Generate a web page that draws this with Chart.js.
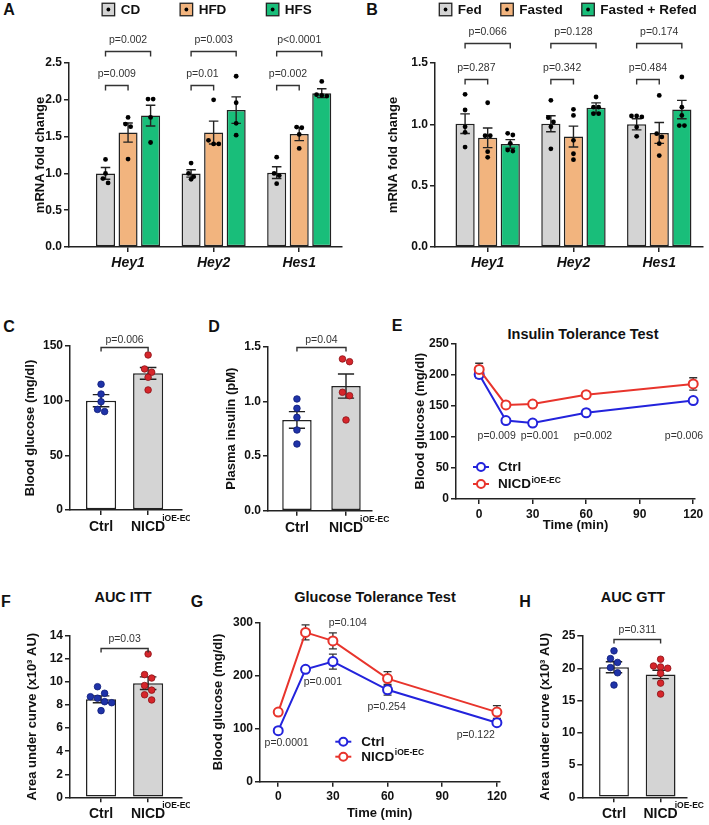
<!DOCTYPE html>
<html><head><meta charset="utf-8">
<script src="https://cdn.jsdelivr.net/npm/chart.js@4/dist/chart.umd.min.js"></script>
<style>
html,body{margin:0;padding:0;background:#fff;}
#wrap{position:relative;width:709px;height:825px;overflow:hidden;background:#fff;font-family:'Liberation Sans',Arial,Helvetica,sans-serif;}
canvas{position:absolute;}
.t{position:absolute;font-weight:bold;color:#111;white-space:nowrap;line-height:1;transform:translate(-50%,-50%);}
.let{font-size:16px;}
.ttl{font-size:14.5px;}
</style></head><body><div id="wrap">
<div class="t let" style="left:9px;top:10px">A</div>
<div class="t let" style="left:372px;top:10px">B</div>
<div class="t let" style="left:9px;top:327px">C</div>
<div class="t let" style="left:214px;top:327px">D</div>
<div class="t let" style="left:397px;top:326px">E</div>
<div class="t let" style="left:6px;top:602px">F</div>
<div class="t let" style="left:197px;top:602px">G</div>
<div class="t let" style="left:525px;top:602px">H</div>
<div class="t ttl" style="left:583px;top:334px">Insulin Tolerance Test</div>
<div class="t ttl" style="left:123px;top:597px">AUC ITT</div>
<div class="t ttl" style="left:375px;top:597px">Glucose Tolerance Test</div>
<div class="t ttl" style="left:633px;top:597px">AUC GTT</div>
</div>
<script>
// ================= DATA =================
// Panel A: diet (CD / HFD / HFS)
const catsA = ['Hey1', 'Hey2', 'Hes1'];
const seriesA = ['CD', 'HFD', 'HFS'];
const meanA_CD  = [1.00, 1.00, 1.01];
const meanA_HFD = [1.555, 1.555, 1.535];
const meanA_HFS = [1.785, 1.86, 2.09];
const semA_CD  = [0.08, 0.05, 0.08];
const semA_HFD = [0.13, 0.155, 0.09];
const semA_HFS = [0.14, 0.18, 0.06];
const ptsA_CD  = [[1.19, 1.00, 0.93, 0.87], [1.14, 1.00, 0.955, 0.92], [1.22, 1.00, 0.97, 0.86]];
const ptsA_HFD = [[1.76, 1.67, 1.635, 1.195], [2.00, 1.45, 1.40, 1.40], [1.63, 1.62, 1.53, 1.34]];
const ptsA_HFS = [[2.01, 2.01, 1.76, 1.42], [2.32, 1.96, 1.68, 1.52], [2.25, 2.07, 2.06, 2.05]];
const pA_HFD = ['p=0.009', 'p=0.01', 'p=0.002'];
const pA_HFS = ['p=0.002', 'p=0.003', 'p<0.0001'];

// Panel B: feeding (Fed / Fasted / Fasted + Refed)
const catsB = ['Hey1', 'Hey2', 'Hes1'];
const seriesB = ['Fed', 'Fasted', 'Fasted + Refed'];
const meanB_Fed    = [1.005, 1.005, 1.00];
const meanB_Fasted = [0.89, 0.90, 0.93];
const meanB_Refed  = [0.84, 1.135, 1.12];
const semB_Fed    = [0.08, 0.065, 0.045];
const semB_Fasted = [0.08, 0.085, 0.085];
const semB_Refed  = [0.035, 0.04, 0.075];
const ptsB_Fed    = [[1.245, 1.117, 0.98, 0.935, 0.815], [1.196, 1.054, 1.02, 0.98, 0.80], [1.068, 1.068, 1.06, 0.978, 0.902]];
const ptsB_Fasted = [[1.176, 0.907, 0.907, 0.777, 0.731], [1.122, 1.073, 0.87, 0.76, 0.712], [1.236, 0.924, 0.897, 0.842, 0.745]];
const ptsB_Refed  = [[0.927, 0.913, 0.845, 0.79, 0.782], [1.223, 1.14, 1.14, 1.087, 1.087], [1.386, 1.14, 1.073, 0.99, 0.99]];
const pB_Fasted = ['p=0.287', 'p=0.342', 'p=0.484'];
const pB_Refed  = ['p=0.066', 'p=0.128', 'p=0.174'];

// Panels C, D, F, H: Ctrl vs NICD
const groups = ['Ctrl', 'NICD'];
const groupSup = 'iOE-EC';
const meanC = [100, 125];     const semC = [5.5, 5.4];
const ptsC = [[115, 106, 99, 92, 90], [141.8, 129, 126, 121.4, 109.8]];
const pC = 'p=0.006';
const meanD = [0.83, 1.14];   const semD = [0.076, 0.11];
const ptsD = [[1.022, 0.936, 0.854, 0.738, 0.61], [1.388, 1.363, 1.083, 1.052, 0.83]];
const pD = 'p=0.04';
const meanF = [8.5, 9.9];     const semF = [0.3, 0.55];
const ptsF = [[9.6, 9.03, 8.73, 8.6, 8.3, 8.21, 7.52], [12.44, 10.65, 10.35, 9.7, 9.3, 8.9, 8.45]];
const pF = 'p=0.03';
const meanH = [20.15, 19.05]; const semH = [0.85, 0.65];
const ptsH = [[22.7, 21.5, 20.9, 20.1, 19.3, 17.4], [21.4, 20.35, 20.2, 20.0, 19.2, 17.7, 16.0]];
const pH = 'p=0.311';

// Panel E: insulin tolerance test
const timeMin = [0, 15, 30, 60, 120];
const timeTicks = [0, 30, 60, 90, 120];
const ittCtrl = [200, 126, 122, 138.5, 158];
const ittCtrlSem = [6, 4, 4, 3, 4];
const ittNICD = [208, 151, 152.5, 167.5, 184.7];
const ittNICDSem = [10, 3, 3, 3, 10];
const ittP = ['p=0.009', 'p=0.001', 'p=0.002', 'p=0.006'];

// Panel G: glucose tolerance test
const gttCtrl = [96, 211.5, 226, 173, 111];
const gttCtrlSem = [3, 5, 14, 10, 4];
const gttNICD = [131, 281, 265, 194, 131];
const gttNICDSem = [3, 14, 15, 13, 12];
const gttP = ['p=0.0001', 'p=0.001', 'p=0.104', 'p=0.254', 'p=0.122'];

// ================= STYLE / HELPERS =================
const FONT = "'Liberation Sans', Arial, Helvetica, sans-serif";
Chart.defaults.font.family = FONT;
Chart.defaults.color = '#111';
const AX = '#222';
const C_GRAY = '#d4d4d4', C_ORANGE = '#f2b47e', C_GREEN = '#19be7a';
const C_BLUE = '#1f33a8', C_RED = '#d6262b';
const L_BLUE = '#2323dc', L_RED = '#e8342c';

function mk(rect) {
  const c = document.createElement('canvas');
  c.width = rect.w; c.height = rect.h;
  c.style.left = rect.left + 'px'; c.style.top = rect.top + 'px';
  c.style.width = rect.w + 'px'; c.style.height = rect.h + 'px';
  document.getElementById('wrap').appendChild(c);
  return c.getContext('2d');
}
function geom(rect, area) {
  return {
    padding: { top: area.t - rect.top, right: rect.left + rect.w - area.r, left: 0, bottom: 0 },
    yW: area.l - rect.left,
    xH: rect.top + rect.h - area.b
  };
}
const gridStyle = { drawOnChartArea: false, drawTicks: true, tickLength: 5, tickColor: AX, tickWidth: 1.5, lineWidth: 1.5, color: AX, offset: false };
const borderStyle = { display: true, color: AX, width: 1.5 };

function yAxis(o, g) {
  return {
    type: 'linear', min: o.min, max: o.max,
    ticks: { stepSize: o.step, padding: 2, color: '#111', font: { size: 12, weight: 'bold' }, callback: o.fmt },
    grid: gridStyle, border: borderStyle,
    title: { display: true, text: o.title, color: '#111', font: { size: 13, weight: 'bold' }, padding: { top: o.titleX - 7.8, bottom: 0 } },
    afterFit(s) { s.width = g.yW; }
  };
}

function swarm(pys, r) {
  const idx = pys.map((p, k) => k).sort((a, b) => pys[a] - pys[b]);
  const dx = new Array(pys.length).fill(0);
  let k = 0;
  while (k < idx.length) {
    let j = k + 1;
    while (j < idx.length && pys[idx[j]] - pys[idx[k]] < 2 * r) j++;
    const n = j - k;
    for (let q = 0; q < n; q++) dx[idx[k + q]] = (q - (n - 1) / 2) * 2.15 * r;
    k = j;
  }
  return dx;
}

const barExtras = {
  id: 'barExtras',
  afterDatasetsDraw(chart) {
    const o = chart.options.plugins.barExtras;
    const ctx = chart.ctx, ys = chart.scales.y;
    ctx.save();
    chart.data.datasets.forEach((ds, di) => {
      const meta = chart.getDatasetMeta(di);
      meta.data.forEach((bar, i) => {
        const m = ds.data[i].y, s = ds.sem[i];
        const cx = bar.x, cap = bar.width * o.capFrac / 2;
        const yT = ys.getPixelForValue(m + s), yB = ys.getPixelForValue(m - s);
        ctx.strokeStyle = AX; ctx.lineWidth = 1.4;
        ctx.beginPath();
        ctx.moveTo(cx, yT); ctx.lineTo(cx, yB);
        ctx.moveTo(cx - cap, yT); ctx.lineTo(cx + cap, yT);
        ctx.moveTo(cx - cap, yB); ctx.lineTo(cx + cap, yB);
        ctx.stroke();
        const pts = ds.pts[i];
        const pys = pts.map(v => ys.getPixelForValue(v));
        const dx = swarm(pys, o.dotR);
        const fill = Array.isArray(ds.dotFill) ? ds.dotFill[i] : ds.dotFill;
        const stroke = Array.isArray(ds.dotStroke) ? ds.dotStroke[i] : ds.dotStroke;
        pys.forEach((py, k) => {
          ctx.beginPath();
          ctx.arc(cx + dx[k], py, o.dotR, 0, Math.PI * 2);
          ctx.fillStyle = fill; ctx.fill();
          if (stroke) { ctx.strokeStyle = stroke; ctx.lineWidth = 0.8; ctx.stroke(); }
        });
      });
    });
    // significance brackets
    ctx.strokeStyle = '#333'; ctx.lineWidth = 1.4;
    ctx.fillStyle = '#333'; ctx.font = '10.5px ' + FONT;
    ctx.textAlign = 'center'; ctx.textBaseline = 'middle';
    (o.brackets || []).forEach(b => {
      const xa = chart.getDatasetMeta(b.a[0]).data[b.a[1]].x;
      const xb = chart.getDatasetMeta(b.b[0]).data[b.b[1]].x;
      const yy = Math.round(ys.getPixelForValue(b.y)) + 0.5;
      ctx.beginPath();
      ctx.moveTo(xa, yy + o.leg); ctx.lineTo(xa, yy); ctx.lineTo(xb, yy); ctx.lineTo(xb, yy + o.leg);
      ctx.stroke();
      ctx.fillText(b.text, (xa + xb) / 2, yy - o.textGap);
    });
    ctx.restore();
  },
  afterDraw(chart) {
    const o = chart.options.plugins.barExtras;
    const ctx = chart.ctx;
    ctx.save();
    if (o.legend) {
      const L = o.legend, B = 12.5;
      ctx.font = 'bold 13.5px ' + FONT;
      const items = chart.data.datasets.map(ds => ({ ds, w: B + 6 + ctx.measureText(ds.label).width }));
      const total = items.reduce((a, it) => a + it.w, 0) + L.gap * (items.length - 1);
      let x = L.cx - total / 2;
      items.forEach(it => {
        ctx.fillStyle = it.ds.backgroundColor;
        ctx.fillRect(x, L.y - B / 2, B, B);
        ctx.strokeStyle = AX; ctx.lineWidth = 1.3;
        ctx.strokeRect(x, L.y - B / 2, B, B);
        ctx.beginPath(); ctx.arc(x + B / 2, L.y, 1.9, 0, Math.PI * 2); ctx.fillStyle = '#000'; ctx.fill();
        ctx.fillStyle = '#111'; ctx.textAlign = 'left'; ctx.textBaseline = 'middle';
        ctx.fillText(it.ds.label, x + B + 6, L.y + 0.5);
        x += it.w + L.gap;
      });
    }
    if (o.sup) {
      const xs = chart.scales.x;
      const px = xs.getPixelForValue(o.sup.index);
      ctx.font = 'bold 14px ' + FONT;
      const w = ctx.measureText(groups[o.sup.index]).width;
      ctx.font = 'bold 8.5px ' + FONT;
      ctx.fillStyle = '#111'; ctx.textAlign = 'left'; ctx.textBaseline = 'alphabetic';
      ctx.fillText(o.sup.text, px + w / 2 - 3, xs.top + 11);
    }
    ctx.restore();
  }
};

function barPanel(rect, area, o) {
  const g = geom(rect, area);
  const ctx = mk(rect);
  return new Chart(ctx, {
    type: 'bar',
    data: { datasets: o.datasets },
    options: {
      responsive: false, animation: false, devicePixelRatio: 1, events: [],
      layout: { padding: g.padding },
      plugins: { legend: { display: false }, tooltip: { enabled: false }, title: { display: false },
        barExtras: o.extras },
      scales: {
        x: {
          type: 'linear', min: o.xMin, max: o.xMax, offset: false,
          afterBuildTicks(s) { s.ticks = o.cats.map((c, i) => ({ value: i })); },
          ticks: { autoSkip: false, maxRotation: 0, minRotation: 0, padding: o.xPad, color: '#111',
            font: o.catFont, callback: (v, i) => o.cats[i] },
          grid: gridStyle, border: borderStyle,
          afterFit(s) { s.height = g.xH; }
        },
        y: yAxis(o.y, g)
      }
    },
    plugins: [barExtras]
  });
}

function groupedSets(labels, colors, means, sems, pts, catPct, barPct) {
  return labels.map((lab, d) => ({
    label: lab,
    data: means[d].map((v, i) => ({ x: i, y: v })),
    sem: sems[d], pts: pts[d],
    backgroundColor: colors[d], borderColor: AX, borderWidth: 1.5, borderSkipped: false,
    categoryPercentage: catPct, barPercentage: barPct,
    dotFill: '#000', dotStroke: null
  }));
}
function pairSet(means, sems, pts, barPct) {
  return [{
    label: 'value',
    data: means.map((v, i) => ({ x: i, y: v })),
    sem: sems, pts: pts,
    backgroundColor: ['#ffffff', C_GRAY], borderColor: AX, borderWidth: 1.5, borderSkipped: false,
    categoryPercentage: 1, barPercentage: barPct,
    dotFill: [C_BLUE, C_RED], dotStroke: ['#0e1c78', '#8c1216']
  }];
}
function tripleBrackets(inner, outer, yIn, yOut) {
  const out = [];
  inner.forEach((t, c) => out.push({ a: [0, c], b: [1, c], y: yIn, text: t }));
  outer.forEach((t, c) => out.push({ a: [0, c], b: [2, c], y: yOut, text: t }));
  return out;
}

// ---------- Panel A ----------
barPanel({ left: 0, top: 0, w: 350, h: 280 }, { l: 69, t: 63, r: 342, b: 247 }, {
  cats: catsA, xMin: -0.69, xMax: 2.5, xPad: 3,
  catFont: { size: 14, weight: 'bold', style: 'italic' },
  datasets: groupedSets(seriesA, [C_GRAY, C_ORANGE, C_GREEN],
    [meanA_CD, meanA_HFD, meanA_HFS], [semA_CD, semA_HFD, semA_HFS], [ptsA_CD, ptsA_HFD, ptsA_HFS], 0.79, 0.845),
  y: { min: 0, max: 2.5, step: 0.5, fmt: v => v.toFixed(1), title: 'mRNA fold change', titleX: 40 },
  extras: { capFrac: 0.5, dotR: 2.4, leg: 5, textGap: 11,
    brackets: tripleBrackets(pA_HFD, pA_HFS, 2.2, 2.667),
    legend: { cx: 207, y: 9.5, gap: 40 } }
});

// ---------- Panel B ----------
barPanel({ left: 352, top: 0, w: 357, h: 280 }, { l: 435, t: 63, r: 703, b: 247 }, {
  cats: catsB, xMin: -0.614, xMax: 2.51, xPad: 3,
  catFont: { size: 14, weight: 'bold', style: 'italic' },
  datasets: groupedSets(seriesB, [C_GRAY, C_ORANGE, C_GREEN],
    [meanB_Fed, meanB_Fasted, meanB_Refed], [semB_Fed, semB_Fasted, semB_Refed], [ptsB_Fed, ptsB_Fasted, ptsB_Refed], 0.79, 0.85),
  y: { min: 0, max: 1.5, step: 0.5, fmt: v => v.toFixed(1), title: 'mRNA fold change', titleX: 41 },
  extras: { capFrac: 0.5, dotR: 2.4, leg: 5, textGap: 11,
    brackets: tripleBrackets(pB_Fasted, pB_Refed, 1.372, 1.663),
    legend: { cx: 216, y: 9.5, gap: 19 } }
});

// ---------- Panel C ----------
barPanel({ left: 0, top: 315, w: 190, h: 230 }, { l: 70, t: 346, r: 182, b: 510 }, {
  cats: groups, xMin: -0.66, xMax: 1.72, xPad: 4,
  catFont: { size: 14, weight: 'bold' },
  datasets: pairSet(meanC, semC, ptsC, 0.64),
  y: { min: 0, max: 150, step: 50, fmt: v => v, title: 'Blood glucose (mg/dl)', titleX: 30 },
  extras: { capFrac: 0.55, dotR: 3.3, leg: 4, textGap: 7.5,
    brackets: [{ a: [0, 0], b: [0, 1], y: 149.5, text: pC }],
    sup: { index: 1, text: groupSup } }
});

// ---------- Panel D ----------
barPanel({ left: 190, top: 315, w: 200, h: 230 }, { l: 268, t: 346.7, r: 372, b: 510.7 }, {
  cats: groups, xMin: -0.59, xMax: 1.53, xPad: 4,
  catFont: { size: 14, weight: 'bold' },
  datasets: pairSet(meanD, semD, ptsD, 0.6),
  y: { min: 0, max: 1.5, step: 0.5, fmt: v => v.toFixed(1), title: 'Plasma insulin (pM)', titleX: 41.7 },
  extras: { capFrac: 0.55, dotR: 3.3, leg: 4, textGap: 7.5,
    brackets: [{ a: [0, 0], b: [0, 1], y: 1.5, text: pD }],
    sup: { index: 1, text: groupSup } }
});

// ---------- Panel F ----------
barPanel({ left: 0, top: 600, w: 190, h: 225 }, { l: 70, t: 636, r: 182, b: 797.3 }, {
  cats: groups, xMin: -0.66, xMax: 1.72, xPad: 3,
  catFont: { size: 14, weight: 'bold' },
  datasets: pairSet(meanF, semF, ptsF, 0.64),
  y: { min: 0, max: 14, step: 2, fmt: v => v, title: 'Area under curve (x10³ AU)', titleX: 32 },
  extras: { capFrac: 0.55, dotR: 3.3, leg: 4, textGap: 9.5,
    brackets: [{ a: [0, 0], b: [0, 1], y: 13.0, text: pF }],
    sup: { index: 1, text: groupSup } }
});

// ---------- Panel H ----------
barPanel({ left: 530, top: 600, w: 179, h: 225 }, { l: 582.3, t: 636, r: 686.7, b: 797.3 }, {
  cats: groups, xMin: -0.68, xMax: 1.56, xPad: 3,
  catFont: { size: 14, weight: 'bold' },
  datasets: pairSet(meanH, semH, ptsH, 0.64),
  y: { min: 0, max: 25, step: 5, fmt: v => v, title: 'Area under curve (x10³ AU)', titleX: 15 },
  extras: { capFrac: 0.55, dotR: 3.3, leg: 4, textGap: 9.5,
    brackets: [{ a: [0, 0], b: [0, 1], y: 24.6, text: pH }],
    sup: { index: 1, text: groupSup } }
});

// ================= LINE PANELS =================
const lineExtras = {
  id: 'lineExtras',
  beforeDatasetsDraw(chart) {
    const ctx = chart.ctx, ys = chart.scales.y, xs = chart.scales.x;
    ctx.save();
    ctx.strokeStyle = '#333'; ctx.lineWidth = 1.3;
    chart.data.datasets.forEach(ds => {
      ds.data.forEach((p, i) => {
        const cx = xs.getPixelForValue(p.x);
        const yT = ys.getPixelForValue(p.y + ds.sem[i]), yB = ys.getPixelForValue(p.y - ds.sem[i]);
        ctx.beginPath();
        ctx.moveTo(cx, yT); ctx.lineTo(cx, yB);
        ctx.moveTo(cx - 4, yT); ctx.lineTo(cx + 4, yT);
        ctx.moveTo(cx - 4, yB); ctx.lineTo(cx + 4, yB);
        ctx.stroke();
      });
    });
    ctx.restore();
  },
  afterDraw(chart) {
    const o = chart.options.plugins.lineExtras;
    const ctx = chart.ctx, ys = chart.scales.y, xs = chart.scales.x, a = chart.chartArea;
    ctx.save();
    ctx.fillStyle = '#333'; ctx.font = '10.5px ' + FONT;
    ctx.textAlign = 'center'; ctx.textBaseline = 'middle';
    o.pLabels.forEach(p => ctx.fillText(p.text, xs.getPixelForValue(p.x), ys.getPixelForValue(p.y)));
    const L = o.legend;
    chart.data.datasets.forEach((ds, k) => {
      const cx = a.left + L.x, cy = a.bottom + L.y[k];
      ctx.strokeStyle = ds.borderColor; ctx.lineWidth = 2;
      ctx.beginPath(); ctx.moveTo(cx - 8, cy); ctx.lineTo(cx + 8, cy); ctx.stroke();
      ctx.beginPath(); ctx.arc(cx, cy, 4, 0, Math.PI * 2); ctx.fillStyle = '#fff'; ctx.fill(); ctx.stroke();
      ctx.fillStyle = '#111'; ctx.font = 'bold 13.5px ' + FONT; ctx.textAlign = 'left'; ctx.textBaseline = 'middle';
      ctx.fillText(ds.label, cx + L.tx, cy + 0.5);
      if (ds.sup) {
        const w = ctx.measureText(ds.label).width;
        ctx.font = 'bold 8.5px ' + FONT; ctx.textBaseline = 'alphabetic';
        ctx.fillText(ds.sup, cx + L.tx + w + 0.5, cy - 1.5);
      }
    });
    ctx.restore();
  }
};

function linePanel(rect, area, o) {
  const g = geom(rect, area);
  const ctx = mk(rect);
  const mkSet = (label, sup, vals, sem, col, order) => ({
    label, sup, sem, order, clip: false,
    data: timeMin.map((t, i) => ({ x: t, y: vals[i] })),
    borderColor: col, backgroundColor: col, borderWidth: 2, tension: 0,
    pointRadius: 4.5, pointBorderWidth: 2, pointBorderColor: col, pointBackgroundColor: '#ffffff'
  });
  return new Chart(ctx, {
    type: 'line',
    data: { datasets: [
      mkSet('Ctrl', null, o.ctrl, o.ctrlSem, L_BLUE, 1),
      mkSet('NICD', groupSup, o.nicd, o.nicdSem, L_RED, 0)
    ] },
    options: {
      responsive: false, animation: false, devicePixelRatio: 1, events: [],
      layout: { padding: g.padding },
      plugins: { legend: { display: false }, tooltip: { enabled: false }, lineExtras: o.extras },
      scales: {
        x: {
          type: 'linear', min: o.xMin, max: o.xMax, offset: false,
          afterBuildTicks(s) { s.ticks = timeTicks.map(v => ({ value: v })); },
          ticks: { autoSkip: false, maxRotation: 0, padding: 3, color: '#111', font: { size: 12, weight: 'bold' } },
          grid: gridStyle, border: borderStyle,
          title: { display: true, text: 'Time (min)', color: '#111', font: { size: 13, weight: 'bold' }, padding: { top: 0, bottom: o.xTitlePad } },
          afterFit(s) { s.height = g.xH; }
        },
        y: yAxis(o.y, g)
      }
    },
    plugins: [lineExtras]
  });
}

// ---------- Panel E ----------
linePanel({ left: 378, top: 315, w: 331, h: 230 }, { l: 456, t: 343.3, r: 695, b: 499 }, {
  ctrl: ittCtrl, ctrlSem: ittCtrlSem, nicd: ittNICD, nicdSem: ittNICDSem,
  xMin: -13, xMax: 121, xTitlePad: 12.2,
  y: { min: 0, max: 250, step: 50, fmt: v => v, title: 'Blood glucose (mg/dl)', titleX: 42 },
  extras: {
    pLabels: [
      { x: 9.8, y: 101, text: ittP[0] }, { x: 34, y: 101, text: ittP[1] },
      { x: 63.8, y: 101, text: ittP[2] }, { x: 114.8, y: 101, text: ittP[3] }
    ],
    legend: { x: 25, y: [-32, -15], tx: 17 }
  }
});

// ---------- Panel G ----------
linePanel({ left: 190, top: 600, w: 320, h: 225 }, { l: 260, t: 622.3, r: 500.7, b: 781.7 }, {
  ctrl: gttCtrl, ctrlSem: gttCtrlSem, nicd: gttNICD, nicdSem: gttNICDSem,
  xMin: -10, xMax: 121.3, xTitlePad: 4.2,
  y: { min: 0, max: 300, step: 100, fmt: v => v, title: 'Blood glucose (mg/dl)', titleX: 28 },
  extras: {
    pLabels: [
      { x: 4.6, y: 72, text: gttP[0] }, { x: 24.5, y: 188, text: gttP[1] },
      { x: 38.2, y: 298, text: gttP[2] }, { x: 59.5, y: 141, text: gttP[3] },
      { x: 108.4, y: 88, text: gttP[4] }
    ],
    legend: { x: 83.3, y: [-40, -25], tx: 18 }
  }
});
</script>
</body></html>
